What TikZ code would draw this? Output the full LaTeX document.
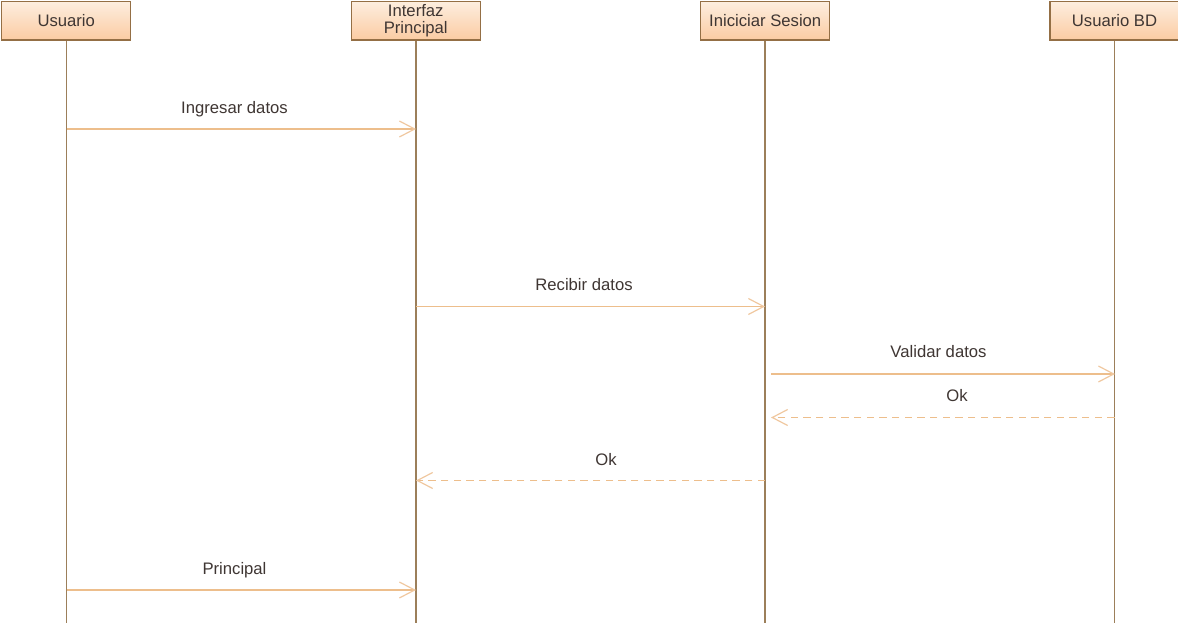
\documentclass[tikz,border=0pt]{standalone}
\usepackage{fontspec}
\setmainfont{Liberation Sans}
\usetikzlibrary{arrows.meta}
\definecolor{boxedge}{HTML}{946F45}
\definecolor{boxtop}{HTML}{FDEEDF}
\definecolor{boxbot}{HTML}{FBCBA2}
\definecolor{lifeline}{HTML}{9C7F5A}
\definecolor{msg}{HTML}{EDBE8C}
\definecolor{msgarrow}{HTML}{F0C8A0}
\definecolor{txt}{HTML}{3F3633}
\tikzset{x=0.75pt,y=-0.75pt,
  actor/.style={draw=boxedge,line width=0.85pt,top color=boxtop,bottom color=boxbot,minimum width=96.75pt,minimum height=28.9pt,inner sep=0pt,align=center,text=txt,font=\fontsize{12.5}{13.3}\selectfont},
  life/.style={draw=lifeline,line width=1.1pt},
  call/.style={draw=msg,line width=0.95pt,-{Straight Barb[length=11.5pt,width=12pt,line width=0.9pt,color=msgarrow]}},
  reply/.style={call,dash pattern=on 5.5pt off 4pt},
  lab/.style={text=txt,font=\fontsize{12.5}{14}\selectfont,inner sep=0pt,text height=9pt,text depth=0pt}}
\begin{document}
\begin{tikzpicture}
\useasboundingbox[fill=white] (0,0) rectangle (1178,623);
\node[actor] (a) at (66.25,20.8) {Usuario};
\node[actor] (b) at (415.75,20.8) {Interfaz\\Principal};
\node[actor] (c) at (765.25,20.8) {Iniciciar Sesion};
\node[actor] (d) at (1114.5,20.8) {Usuario BD};
\coordinate (aend) at (66.5,623);
\coordinate (bend) at (416,623);
\coordinate (cend) at (765,623);
\coordinate (dend) at (1114.5,623);
\draw[life] (a.south -| aend) -- (aend);
\draw[life] (b.south -| bend) -- (bend);
\draw[life] (c.south -| cend) -- (cend);
\draw[life] (d.south -| dend) -- (dend);
\coordinate (m1a) at (66.5,129);  \coordinate (m1b) at (416,129);
\coordinate (m2a) at (416,306.5); \coordinate (m2b) at (765,306.5);
\coordinate (m3a) at (771,374);   \coordinate (m3b) at (1115,374);
\coordinate (m4a) at (1114.5,417.5); \coordinate (m4b) at (771,417.5);
\coordinate (m5a) at (765,480.5); \coordinate (m5b) at (416,480.5);
\coordinate (m6a) at (66.5,590);  \coordinate (m6b) at (416,590);
\draw[call] (m1a) -- (m1b);
\draw[call] (m2a) -- (m2b);
\draw[call] (m3a) -- (m3b);
\draw[reply] (m4a) -- (m4b);
\draw[reply] (m5a) -- (m5b);
\draw[call] (m6a) -- (m6b);
\node[lab] (l1) at (234.5,108) {Ingresar datos};
\node[lab] (l2) at (584,285) {Recibir datos};
\node[lab] (l3) at (938.5,352) {Validar datos};
\node[lab] (l4) at (957,396) {Ok};
\node[lab] (l5) at (606,459) {Ok};
\node[lab] (l6) at (234.5,568) {Principal};
\end{tikzpicture}
\end{document}
